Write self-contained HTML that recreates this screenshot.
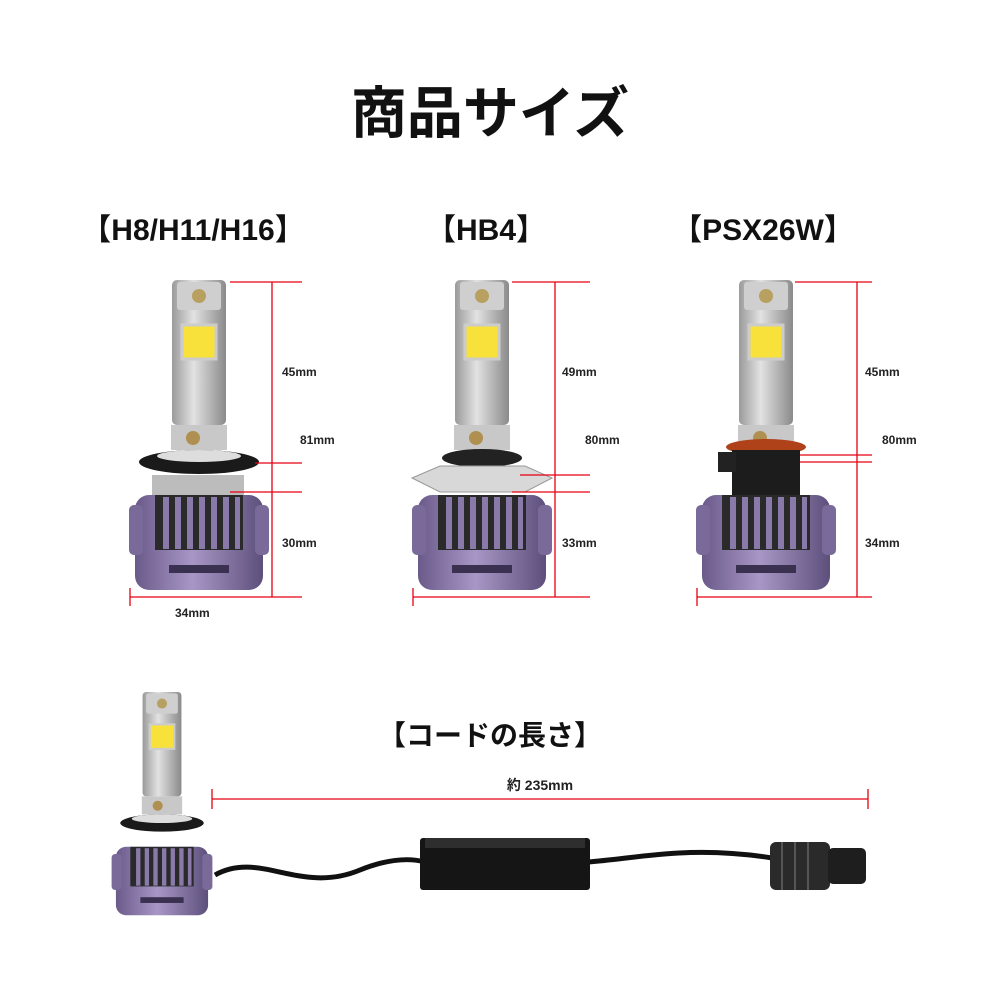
<!DOCTYPE html>
<html><head><meta charset="utf-8"><style>
html,body{margin:0;padding:0;background:#fff;}
svg{display:block;}
text{font-family:"Liberation Sans","Noto Sans CJK JP",sans-serif;}
</style></head><body>
<svg width="1000" height="1000" viewBox="0 0 1000 1000" xmlns="http://www.w3.org/2000/svg">
<defs>
<linearGradient id="sil" x1="0" x2="1" y1="0" y2="0"><stop offset="0" stop-color="#9a9a9a"/><stop offset=".4" stop-color="#e2e2e2"/><stop offset="1" stop-color="#8a8a8a"/></linearGradient>
<linearGradient id="pur" x1="0" x2="1" y1="0" y2="0"><stop offset="0" stop-color="#6a5a8a"/><stop offset=".45" stop-color="#a897c6"/><stop offset="1" stop-color="#5d4f7c"/></linearGradient>
<g id="bulb">
 <rect x="-27" y="0" width="54" height="145" rx="5" fill="url(#sil)"/>
 <rect x="-22" y="2" width="44" height="28" rx="3" fill="#cfcfcf"/>
 <circle cx="0" cy="16" r="7" fill="#b8a060"/>
 <rect x="-17" y="45" width="34" height="34" fill="#f7e13a" stroke="#ccc" stroke-width="3"/>
 <rect x="-28" y="145" width="56" height="25" fill="#c8c8c8"/>
 <circle cx="-6" cy="158" r="7" fill="#b09050"/>
 <rect x="-64" y="215" width="128" height="95" rx="14" fill="url(#pur)"/>
 <rect x="-44" y="215" width="88" height="55" fill="#2a2a2a"/>
 <g fill="#8a7aaa"><rect x="-36" y="217" width="6" height="52"/><rect x="-24" y="217" width="6" height="52"/><rect x="-12" y="217" width="6" height="52"/><rect x="0" y="217" width="6" height="52"/><rect x="12" y="217" width="6" height="52"/><rect x="24" y="217" width="6" height="52"/><rect x="36" y="217" width="5" height="52"/></g>
 <rect x="-70" y="225" width="14" height="50" rx="5" fill="#7a6a9a"/>
 <rect x="56" y="225" width="14" height="50" rx="5" fill="#7a6a9a"/>
 <rect x="-30" y="285" width="60" height="8" fill="#3a3050"/>
</g>
</defs>

<text x="490" y="133" font-size="56" font-weight="bold" text-anchor="middle" fill="#111">商品サイズ</text>

<text x="193" y="240" font-size="30" font-weight="bold" text-anchor="middle" fill="#111">【H8/H11/H16】</text>
<text x="486" y="240" font-size="30" font-weight="bold" text-anchor="middle" fill="#111">【HB4】</text>
<text x="763" y="240" font-size="30" font-weight="bold" text-anchor="middle" fill="#111">【PSX26W】</text>

<use href="#bulb" x="199" y="280"/>
<ellipse cx="199" cy="462" rx="60" ry="12" fill="#1a1a1a"/>
<ellipse cx="199" cy="456" rx="42" ry="6" fill="#ddd"/>
<rect x="152" y="475" width="92" height="20" fill="#bcbcbc"/>

<use href="#bulb" x="482" y="280"/>
<ellipse cx="482" cy="458" rx="40" ry="9" fill="#222"/>
<polygon points="412,478 440,466 525,466 552,478 525,492 440,492" fill="#d8d8d8" stroke="#999"/>

<use href="#bulb" x="766" y="280"/>
<ellipse cx="766" cy="447" rx="40" ry="8" fill="#b0421a"/>
<rect x="732" y="450" width="68" height="45" fill="#1c1c1c"/>
<rect x="718" y="452" width="18" height="20" fill="#222"/>

<g stroke="#e60012" stroke-width="1.3" fill="none">
 <line x1="272" y1="282" x2="272" y2="597"/>
 <line x1="230" y1="282" x2="302" y2="282"/>
 <line x1="255" y1="463" x2="302" y2="463"/>
 <line x1="230" y1="492" x2="302" y2="492"/>
 <line x1="130" y1="597" x2="302" y2="597"/>
 <line x1="130" y1="588" x2="130" y2="606"/>

 <line x1="555" y1="282" x2="555" y2="597"/>
 <line x1="512" y1="282" x2="590" y2="282"/>
 <line x1="520" y1="475" x2="590" y2="475"/>
 <line x1="512" y1="492" x2="590" y2="492"/>
 <line x1="413" y1="597" x2="590" y2="597"/>
 <line x1="413" y1="588" x2="413" y2="606"/>

 <line x1="857" y1="282" x2="857" y2="597"/>
 <line x1="795" y1="282" x2="872" y2="282"/>
 <line x1="800" y1="455" x2="872" y2="455"/>
 <line x1="800" y1="462" x2="872" y2="462"/>
 <line x1="697" y1="597" x2="872" y2="597"/>
 <line x1="697" y1="588" x2="697" y2="606"/>

 <line x1="212" y1="799" x2="868" y2="799"/>
 <line x1="212" y1="789" x2="212" y2="809"/>
 <line x1="868" y1="789" x2="868" y2="809"/>
</g>
<g font-size="12" font-weight="bold" fill="#222">
 <text x="282" y="376">45mm</text><text x="300" y="444">81mm</text><text x="282" y="547">30mm</text><text x="175" y="617">34mm</text>
 <text x="562" y="376">49mm</text><text x="585" y="444">80mm</text><text x="562" y="547">33mm</text>
 <text x="865" y="376">45mm</text><text x="882" y="444">80mm</text><text x="865" y="547">34mm</text>
</g>

<text x="490" y="745" font-size="28" font-weight="bold" text-anchor="middle" fill="#111">【コードの長さ】</text>
<text x="540" y="790" font-size="14" font-weight="bold" text-anchor="middle" fill="#222">約 235mm</text>

<path d="M215,875 C260,850 300,895 360,870 C390,858 410,858 425,862" stroke="#111" stroke-width="5" fill="none"/>
<path d="M588,862 C640,858 690,845 772,858" stroke="#111" stroke-width="5" fill="none"/>
<rect x="420" y="838" width="170" height="52" rx="3" fill="#151515"/>
<rect x="425" y="838" width="160" height="10" fill="#2e2e2e"/>
<rect x="770" y="842" width="60" height="48" rx="6" fill="#2a2a2a"/>
<rect x="828" y="848" width="38" height="36" rx="5" fill="#1e1e1e"/>
<g stroke="#555" stroke-width="2"><line x1="782" y1="842" x2="782" y2="890"/><line x1="795" y1="842" x2="795" y2="890"/><line x1="808" y1="842" x2="808" y2="890"/></g>

<g transform="translate(162,692) scale(0.72)">
 <use href="#bulb" x="0" y="0"/>
 <ellipse cx="0" cy="182" rx="58" ry="12" fill="#1a1a1a"/>
 <ellipse cx="0" cy="176" rx="42" ry="6" fill="#ddd"/>
</g>
</svg>
</body></html>
